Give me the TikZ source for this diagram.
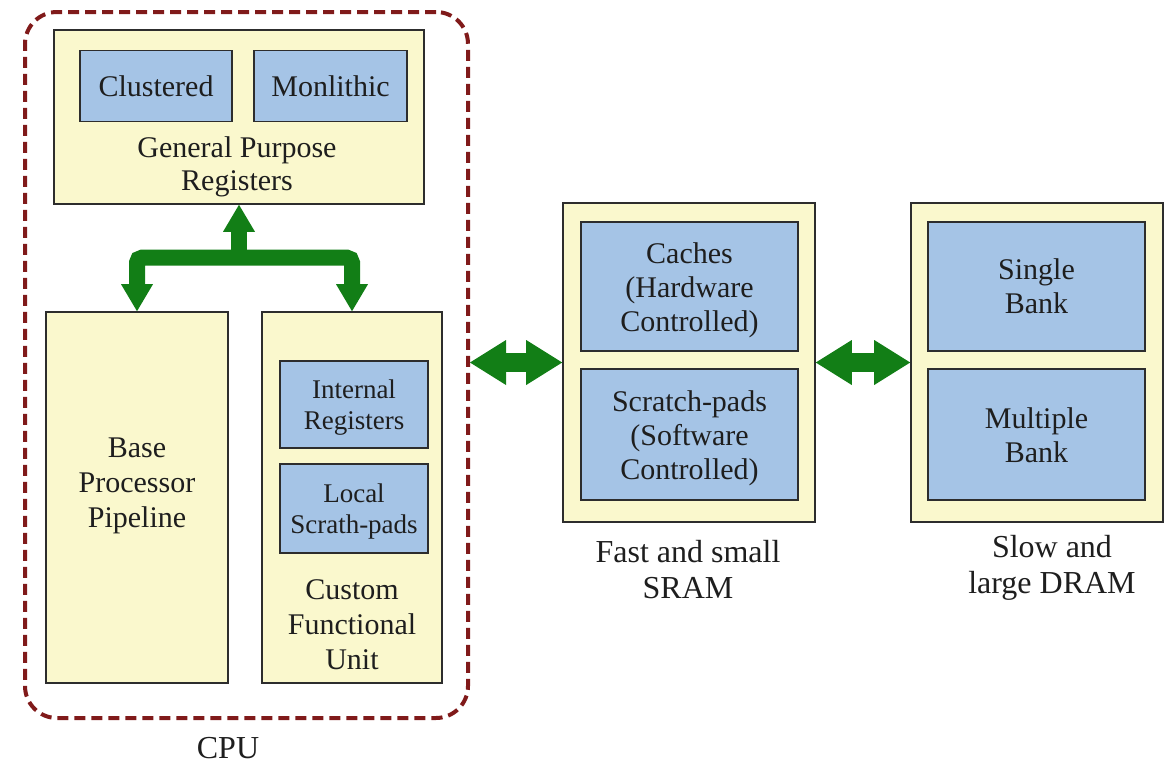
\documentclass[tikz,border=0pt]{standalone}
\usepackage{fontspec}
\setmainfont{Liberation Serif}
\usetikzlibrary{arrows.meta}
\definecolor{boxfill}{RGB}{250,248,205}
\definecolor{innerfill}{RGB}{165,196,230}
\definecolor{boxline}{RGB}{45,45,45}
\definecolor{cpuline}{RGB}{128,26,26}
\definecolor{busgreen}{RGB}{18,126,22}
\definecolor{txt}{RGB}{30,30,30}
\tikzset{
  outerbox/.style={draw=boxline, line width=1.6pt, fill=boxfill, rectangle, inner sep=0pt},
  innerbox/.style={draw=boxline, line width=1.6pt, fill=innerfill, rectangle, inner sep=0pt,
    align=center, text=txt, font=\fontsize{30}{34}\selectfont},
  smallbox/.style={innerbox, font=\fontsize{27}{31}\selectfont},
  lower/.style={text height=#1},
  boxtext/.style={align=center, text=txt, font=\fontsize{30}{35}\selectfont, inner sep=0pt},
  captext/.style={align=center, text=txt, font=\fontsize{32}{36}\selectfont, inner sep=0pt},
  cpuframe/.style={draw=cpuline, line width=4pt, dash pattern=on 11pt off 6pt,
    rounded corners=32pt, rectangle, inner sep=0pt},
  bigtip/.tip={Triangle[length=36pt, width=45pt, line width=0pt]},
  bustip/.tip={Triangle[length=27pt, width=32pt, line width=0pt]},
  link/.style={draw=busgreen, fill=busgreen, line width=19pt, bigtip-bigtip},
  bus/.style={draw=busgreen, line width=16pt},
}
\begin{document}
\begin{tikzpicture}[x=1pt, y=-1pt]
\useasboundingbox (0,0) rectangle (1176,766);

% CPU enclosure
\node[cpuframe, minimum width=443pt, minimum height=706pt] (cpu) at (246.5,365) {};
\node[captext] (cpulabel) at (228,748) {CPU};

% General purpose registers
\node[outerbox, minimum width=370pt, minimum height=174pt] (gpr) at (239,117) {};
\node[innerbox, minimum width=152pt, minimum height=71pt] (clu) at (156,86) {Clustered};
\node[innerbox, minimum width=153pt, minimum height=71pt] (mon) at (330.5,86) {Monlithic};
\node[boxtext, font=\fontsize{30}{33}\selectfont] (gprtext) at (237,167) {General Purpose\\Registers};

% Base pipeline
\node[outerbox, minimum width=182pt, minimum height=371pt] (base) at (137,497.5) {};
\node[boxtext] (basetext) at (137,486) {Base\\Processor\\Pipeline};

% Custom functional unit
\node[outerbox, minimum width=180pt, minimum height=371pt] (cfu) at (352,497.5) {};
\node[smallbox, lower=55pt, minimum width=148pt, minimum height=87pt] (intreg) at (354,404.5) {Internal\\Registers};
\node[smallbox, lower=55pt, minimum width=148pt, minimum height=89pt] (locsp) at (354,508.5) {Local\\Scrath-pads};
\node[boxtext] (cfutext) at (352,625) {Custom\\Functional\\Unit};

% SRAM
\node[outerbox, minimum width=252pt, minimum height=319pt] (sram) at (689,362.5) {};
\node[innerbox, lower=97pt, minimum width=217pt, minimum height=129pt] (caches) at (689.5,286.5) {Caches\\(Hardware\\Controlled)};
\node[innerbox, lower=97pt, minimum width=217pt, minimum height=131pt] (spads) at (689.5,434.5) {Scratch-pads\\(Software\\Controlled)};
\node[captext] (sramlabel) at (688,570) {Fast and small\\SRAM};

% DRAM
\node[outerbox, minimum width=252pt, minimum height=319pt] (dram) at (1037,362.5) {};
\node[innerbox, lower=55pt, minimum width=217pt, minimum height=129pt] (single) at (1036.5,286.5) {Single\\Bank};
\node[innerbox, lower=57pt, minimum width=217pt, minimum height=131pt] (multi) at (1036.5,434.5) {Multiple\\Bank};
\node[captext] (dramlabel) at (1052,568) {Slow and\\large DRAM};

% Register bus inside the CPU
\draw[bus, rounded corners=5pt, bustip-bustip]
  (base.north) -- ++(0,-53.5) coordinate (busl) -| (cfu.north);
\coordinate (busmid) at (gpr.south |- busl);
\draw[bus, -bustip] (busmid) -- (gpr.south);

% Memory links
\draw[link] (sram.west -| cpu.east) -- (sram.west);
\draw[link] (sram.east) -- (dram.west);
\end{tikzpicture}
\end{document}
